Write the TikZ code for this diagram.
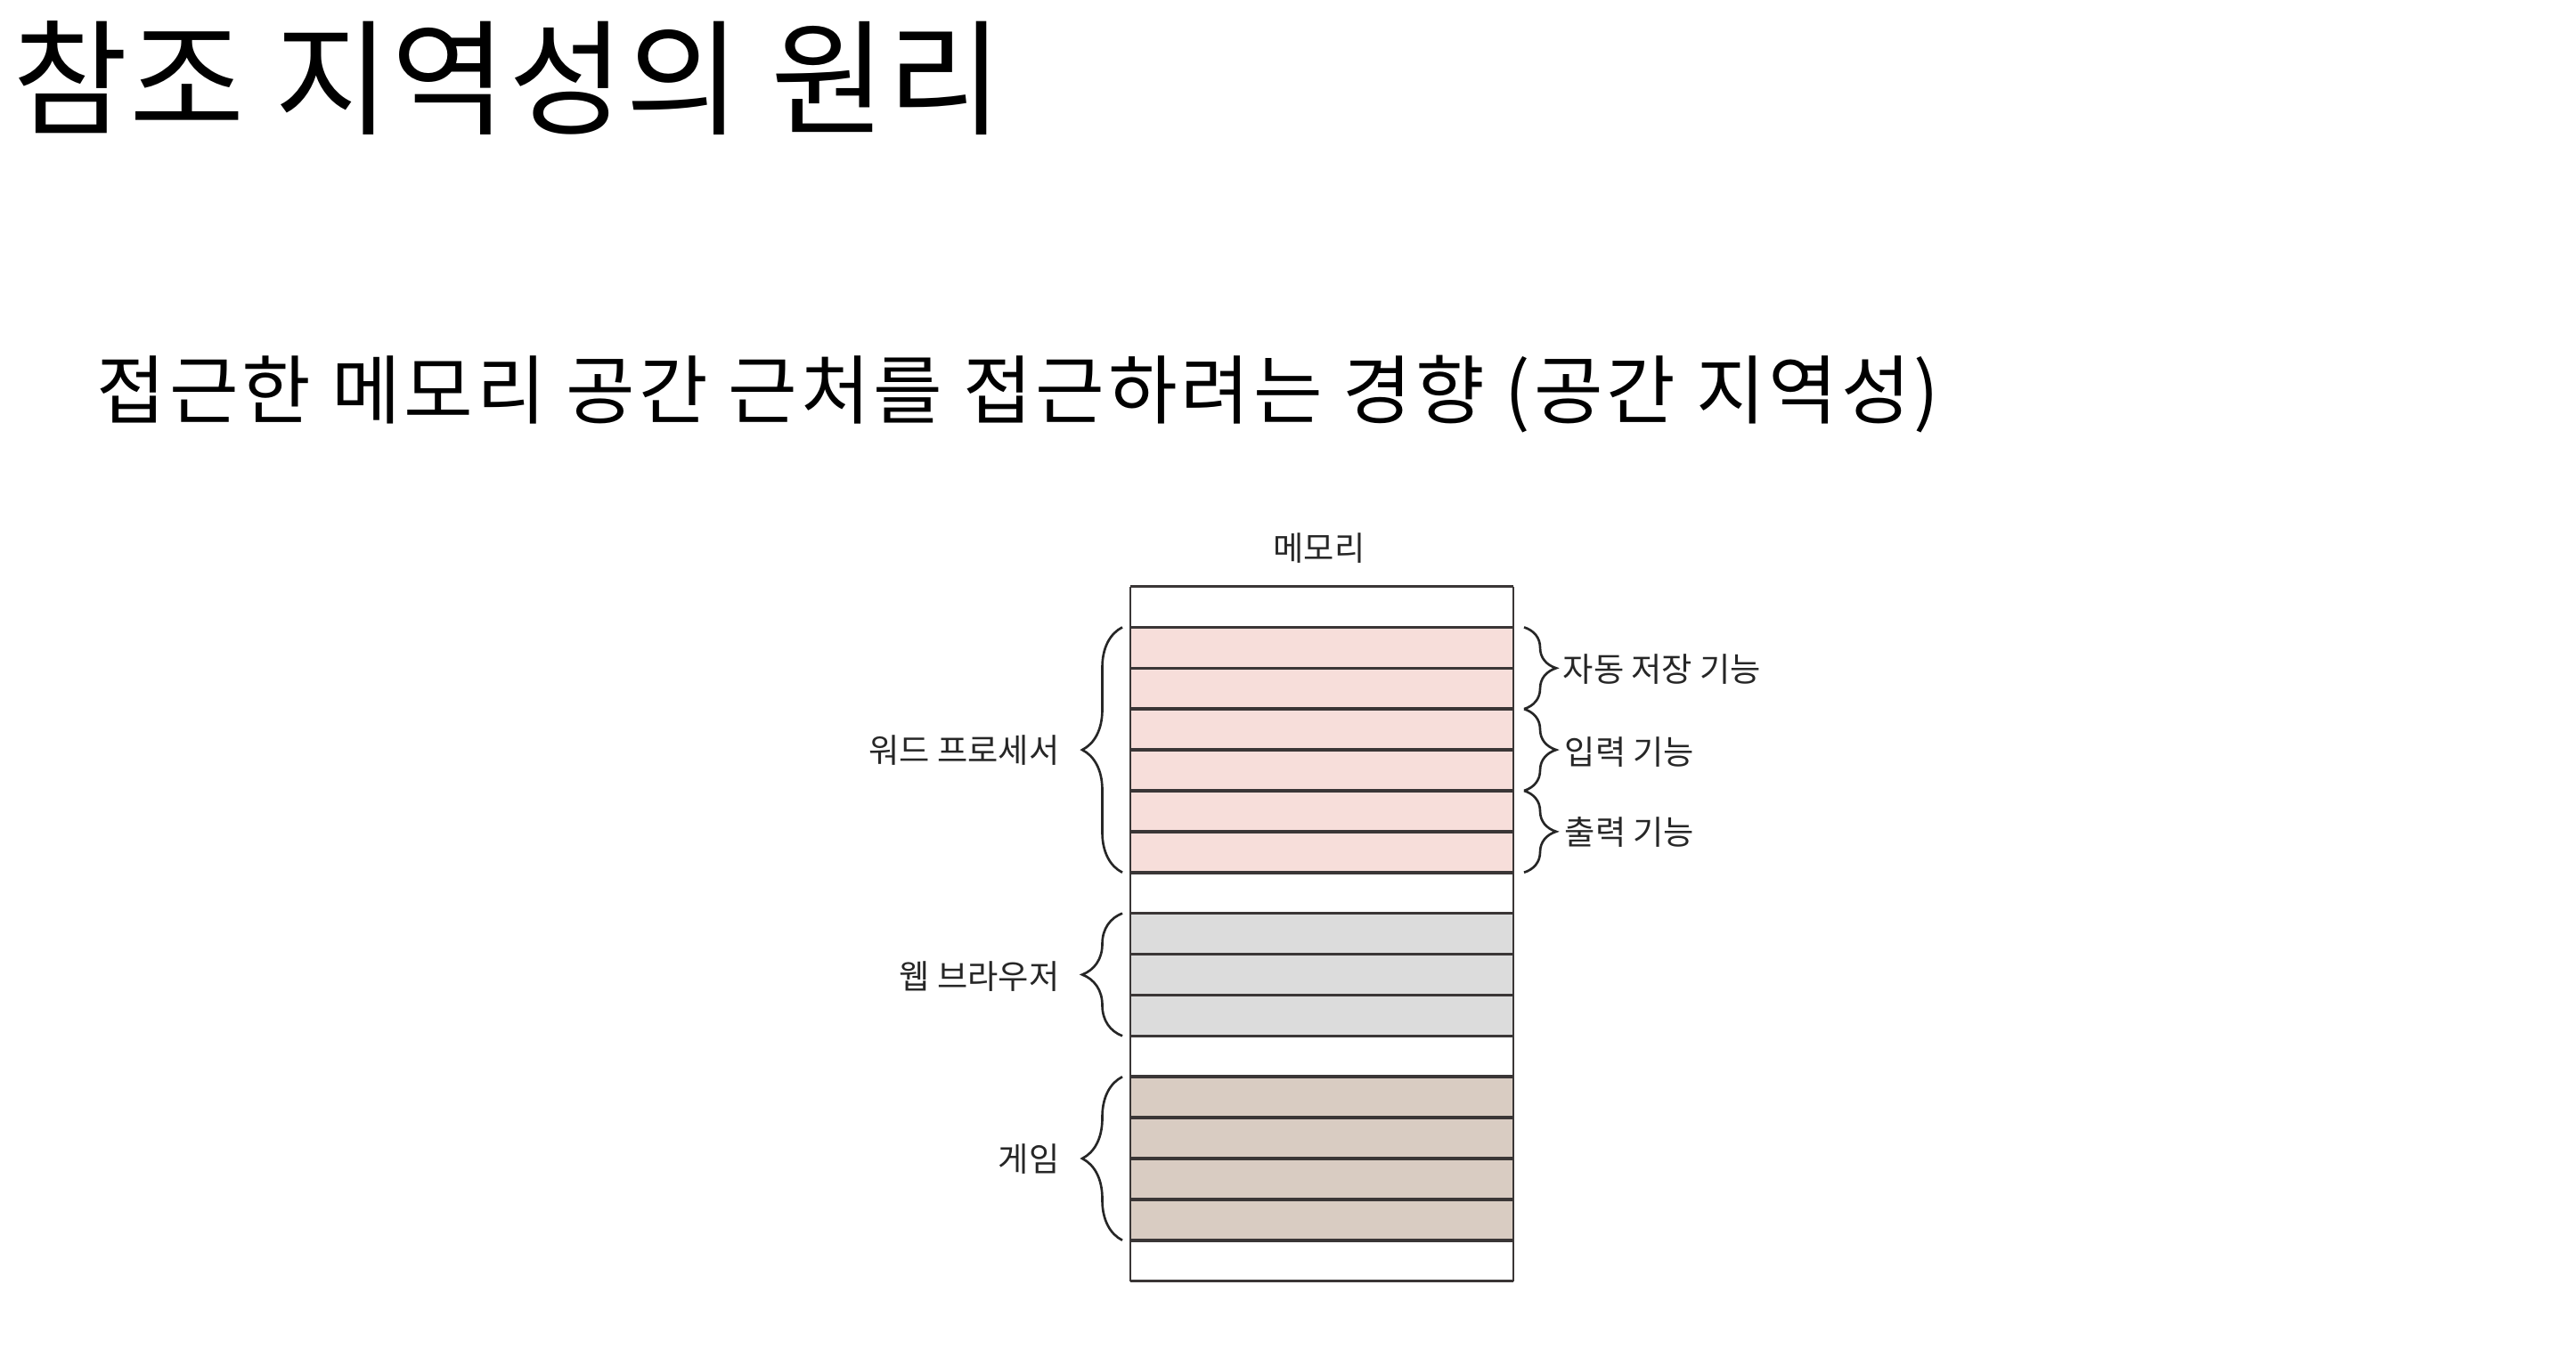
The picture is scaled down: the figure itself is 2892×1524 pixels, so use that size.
\documentclass[tikz,border=0pt]{standalone}
\usepackage{fontspec}
\newfontfamily\kr{Noto Sans CJK KR}
\newfontfamily\krtitle[LetterSpace=1.3]{Noto Sans CJK KR}
\newfontfamily\krsub[LetterSpace=4.6]{Noto Sans CJK KR}
\usetikzlibrary{decorations.pathreplacing,calc}
\definecolor{pinkrow}{HTML}{F7DEDA}
\definecolor{grayrow}{HTML}{DCDCDC}
\definecolor{brownrow}{HTML}{D9CCC2}
\definecolor{ink}{HTML}{3A3636}
\tikzset{
  titletext/.style={inner sep=0pt, font=\krtitle\fontsize{40pt}{48pt}\selectfont},
  subtext/.style={inner sep=0pt, font=\krsub\fontsize{24pt}{29pt}\selectfont},
  lbl/.style={inner sep=0pt, font=\kr\fontsize{10.6pt}{13pt}\selectfont, text=black!85},
  rowline/.style={draw=ink, line width=1pt},
  sideline/.style={draw=ink, line width=0.6pt},
  lbrace/.style={draw=black!85, line width=0.75pt, decorate, decoration={brace, amplitude=0.45cm}},
  rbrace/.style={draw=black!85, line width=0.75pt, decorate, decoration={brace, amplitude=0.36cm}},
}
\begin{document}
\begin{tikzpicture}[x=0.01cm,y=-0.01cm]
\useasboundingbox[fill=white] (0,0) rectangle (2892,1524);
% titles
\node[titletext, anchor=west] (title) at (14,88) {참조 지역성의 원리};
\node[subtext, anchor=west] (sub) at (108,443) {접근한 메모리 공간 근처를 접근하려는 경향 (공간 지역성)};
% memory rows
\foreach \i in {0,...,17} {
  \coordinate (L\i) at (1269, 658.5+45.89*\i);
  \coordinate (R\i) at (1699, 658.5+45.89*\i);
}
\fill[pinkrow] (L1) rectangle (R7);
\fill[grayrow] (L8) rectangle (R11);
\fill[brownrow] (L12) rectangle (R16);
\foreach \i in {0,...,17} { \draw[rowline] (L\i) -- (R\i); }
\draw[sideline] (L0) -- (L17);
\draw[sideline] (R0) -- (R17);
\node[lbl] (mem) at (1481,616) {메모리};
% left braces
\draw[lbrace] ($(L7)+(-9,0)$) -- ($(L1)+(-9,0)$);
\draw[lbrace] ($(L11)+(-9,0)$) -- ($(L8)+(-9,0)$);
\draw[lbrace] ($(L16)+(-9,0)$) -- ($(L12)+(-9,0)$);
\node[lbl, anchor=east] (wp) at (1190,843) {워드 프로세서};
\node[lbl, anchor=east] (web) at (1190,1097) {웹 브라우저};
\node[lbl, anchor=east] (game) at (1190,1302) {게임};
% right braces
\draw[rbrace] ($(R1)+(12,0)$) -- ($(R3)+(12,0)$);
\draw[rbrace] ($(R3)+(12,0)$) -- ($(R5)+(12,0)$);
\draw[rbrace] ($(R5)+(12,0)$) -- ($(R7)+(12,0)$);
\node[lbl, anchor=west] (save) at (1754,752) {자동 저장 기능};
\node[lbl, anchor=west] (inp) at (1756,845) {입력 기능};
\node[lbl, anchor=west] (outp) at (1756,934) {출력 기능};
\end{tikzpicture}
\end{document}
